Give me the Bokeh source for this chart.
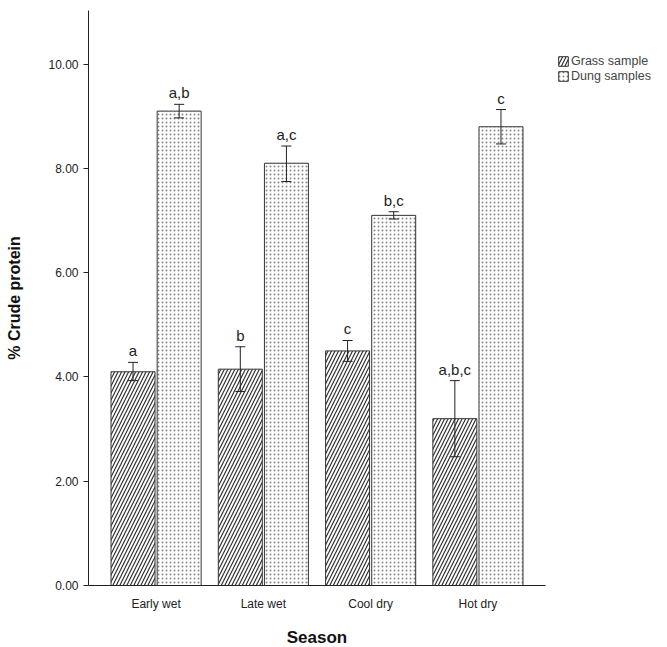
from bokeh.plotting import figure
from bokeh.models import ColumnDataSource, FixedTicker, NumeralTickFormatter, Range1d, Whisker, Legend, LegendItem, LabelSet
from bokeh.core.properties import value
from bokeh.embed import file_html
from bokeh.resources import INLINE

seasons = ["Early wet", "Late wet", "Cool dry", "Hot dry"]
grass = [4.1, 4.15, 4.5, 3.2]
grass_lo = [3.93, 3.72, 4.3, 2.47]
grass_hi = [4.28, 4.58, 4.7, 3.93]
grass_letters = ["a", "b", "c", "a,b,c"]
dung = [9.1, 8.1, 7.1, 8.8]
dung_lo = [8.97, 7.75, 7.03, 8.47]
dung_hi = [9.23, 8.43, 7.17, 9.13]
dung_letters = ["a,b", "a,c", "b,c", "c"]

xs = [1, 2, 3, 4]
off = 0.215
bw = 0.41
font = "Liberation Sans"

gsrc = ColumnDataSource(dict(x=[x - off for x in xs], top=grass, lo=grass_lo, hi=grass_hi, lab=grass_letters))
dsrc = ColumnDataSource(dict(x=[x + off for x in xs], top=dung, lo=dung_lo, hi=dung_hi, lab=dung_letters))

p = figure(frame_width=457, frame_height=575, output_backend="svg", toolbar_location=None,
           x_range=Range1d(0.37, 4.63), y_range=Range1d(0, 11.03),
           min_border_left=88, min_border_right=0, min_border_top=10, min_border_bottom=50)
p.outline_line_color = None
p.xgrid.visible = False
p.ygrid.visible = False

g = p.vbar(x="x", top="top", width=bw, source=gsrc, fill_color="white", line_color="#333333",
           hatch_pattern="right_diagonal_line", hatch_color="#333333", hatch_scale=7, hatch_weight=1.2)
d = p.vbar(x="x", top="top", width=bw, source=dsrc, fill_color="white", line_color="#333333",
           hatch_pattern="dot", hatch_color="#888888", hatch_scale=4, hatch_weight=1)

for src in (gsrc, dsrc):
    w = Whisker(base="x", lower="lo", upper="hi", source=src, line_color="#222222",
                line_width=1, level="overlay")
    w.upper_head.size = 10
    w.lower_head.size = 10
    w.upper_head.line_color = "#222222"
    w.lower_head.line_color = "#222222"
    p.add_layout(w)
    p.add_layout(LabelSet(x="x", y="hi", text="lab", source=src, text_align="center",
                          y_offset=3, text_font=value(font), text_font_size="15px", text_color="#222222"))

p.xaxis.ticker = FixedTicker(ticks=xs)
p.xaxis.major_label_overrides = {x: s for x, s in zip(xs, seasons)}
p.xaxis.minor_tick_line_color = None
p.xaxis.axis_label = "Season"
p.yaxis.ticker = FixedTicker(ticks=[0, 2, 4, 6, 8, 10])
p.yaxis.formatter = NumeralTickFormatter(format="0.00")
p.yaxis.minor_tick_line_color = None
p.yaxis.major_tick_in = 0
p.yaxis.major_tick_out = 5
p.yaxis.axis_label = "% Crude protein"
for ax in (p.xaxis, p.yaxis):
    ax.axis_line_color = "#222222"
    ax.major_tick_line_color = "#222222"
    ax.major_label_text_font = font
    ax.major_label_text_font_size = "12px"
    ax.major_label_text_color = "#222222"
    ax.axis_label_text_font = font
    ax.axis_label_text_font_style = "bold"
    ax.axis_label_text_color = "#111111"
p.xaxis.major_tick_line_color = None
p.yaxis.axis_label_text_font_size = "16px"
p.yaxis.axis_label_standoff = 22
p.xaxis.axis_label_text_font_size = "17px"
p.xaxis.axis_label_standoff = 14

legend = Legend(items=[LegendItem(label="Grass sample", renderers=[g]),
                       LegendItem(label="Dung samples", renderers=[d])],
                location=(12, 502), label_text_font=font, label_text_font_size="12.5px",
                glyph_width=12, glyph_height=12, spacing=1, padding=0, margin=0,
                label_standoff=2, border_line_color=None, background_fill_alpha=0,
                label_height=14)
p.add_layout(legend, "right")

open("out.html", "w").write(file_html(p, INLINE))
